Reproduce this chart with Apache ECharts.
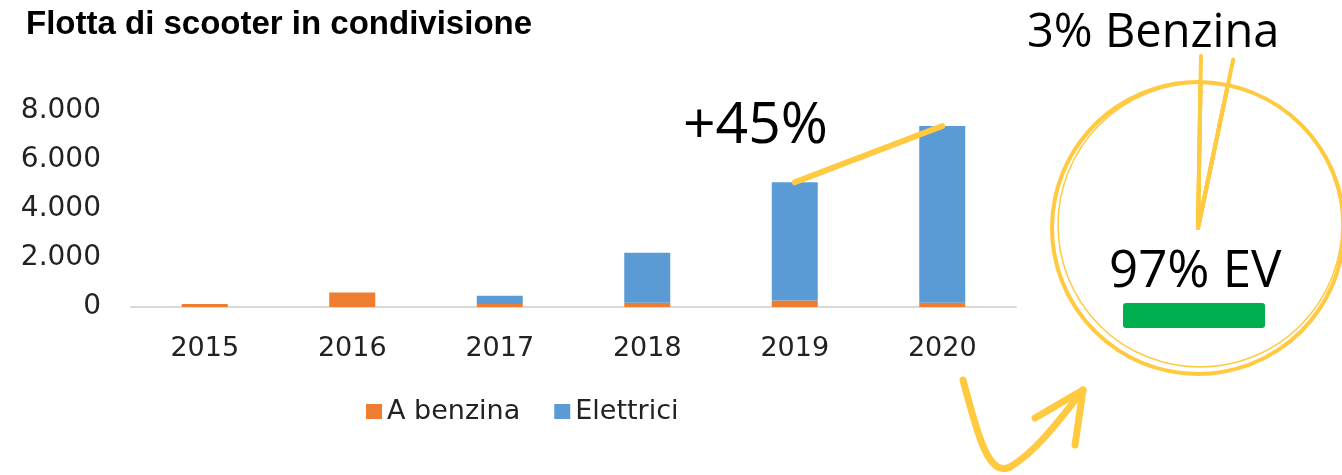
<!DOCTYPE html>
<html>
<head>
<meta charset="utf-8">
<script src="https://cdn.jsdelivr.net/npm/echarts@6/dist/echarts.min.js"></script>
<style>
  html, body { margin: 0; padding: 0; background: #fff; }
  #chart { width: 1342px; height: 475px; }
</style>
</head>
<body>
<div id="chart"></div>
<script>
// Shared scooter fleet by year, split by fuel type
const years = ['2015', '2016', '2017', '2018', '2019', '2020'];
const benzina = [125, 590, 120, 175, 270, 175];
const elettrici = [0, 0, 340, 2040, 4820, 7210];
const yTicks = [0, 2000, 4000, 6000, 8000];

// Fleet mix shown in the circle (percent)
const mixLabels = ['Benzina', 'EV'];
const mixShares = [3, 97];

const totals = years.map((_, i) => benzina[i] + elettrici[i]);
const growth = Math.round((totals[5] / totals[4] - 1) * 100);

const YELLOW = '#FFC940';
const fmtIt = v => String(v).replace(/\B(?=(\d{3})+(?!\d))/g, '.');

const chart = echarts.init(document.getElementById('chart'));

// pie geometry for the circle annotation
const pieCenter = [1198, 228];
const pieRadius = 146;
const pieStart = 89;

// radial strokes that run past the circle edge at each slice boundary
const boundaryLines = [];
{
  const total = mixShares.reduce((a, b) => a + b, 0);
  [0, mixShares[0] / total * 360].forEach(d => {
    const a = (pieStart - d) * Math.PI / 180;
    boundaryLines.push({
      type: 'line',
      silent: true,
      shape: {
        x1: pieCenter[0], y1: pieCenter[1],
        x2: pieCenter[0] + Math.cos(a) * 172,
        y2: pieCenter[1] - Math.sin(a) * 172
      },
      style: { stroke: YELLOW, lineWidth: 4, lineCap: 'round' },
      z: 10
    });
  });
}

const arrowStyle = { fill: 'none', stroke: YELLOW, lineWidth: 7, lineCap: 'round', lineJoin: 'round' };

const option = {
  backgroundColor: '#fff',
  animation: false,
  textStyle: { fontFamily: 'DejaVu Sans' },
  title: {
    text: 'Flotta di scooter in condivisione',
    left: 21,
    top: 3,
    textStyle: {
      fontFamily: 'Liberation Sans',
      fontWeight: 'bold',
      fontSize: 33,
      color: '#000'
    }
  },
  legend: {
    data: ['A benzina', 'Elettrici'],
    left: 361,
    top: 393,
    icon: 'rect',
    itemWidth: 16,
    itemHeight: 15,
    itemGap: 34,
    selectedMode: false,
    textStyle: { fontFamily: 'DejaVu Sans', fontSize: 27, color: '#222' }
  },
  grid: { left: 131, right: 326, top: 111, bottom: 168 },
  xAxis: {
    type: 'category',
    data: years,
    axisLine: { lineStyle: { color: '#D9D9D9', width: 2 } },
    axisTick: { show: false },
    axisLabel: { fontFamily: 'DejaVu Sans', fontSize: 27, color: '#222', margin: 28 }
  },
  yAxis: {
    type: 'value',
    min: yTicks[0],
    max: yTicks[yTicks.length - 1],
    interval: yTicks[1] - yTicks[0],
    splitLine: { show: false },
    axisLine: { show: false },
    axisTick: { show: false },
    axisLabel: {
      fontFamily: 'DejaVu Sans', fontSize: 28, color: '#222', margin: 30,
      formatter: fmtIt
    }
  },
  series: [
    {
      name: 'A benzina',
      type: 'bar',
      stack: 'flotta',
      barWidth: 46,
      data: benzina,
      itemStyle: { color: '#ED7D31' }
    },
    {
      name: 'Elettrici',
      type: 'bar',
      stack: 'flotta',
      barWidth: 46,
      data: elettrici,
      itemStyle: { color: '#5B9BD5' }
    },
    {
      // growth stroke between the last two fleet totals
      name: 'crescita',
      type: 'line',
      data: totals.map((v, i) => (i >= 4 ? v : null)),
      symbol: 'none',
      lineStyle: { color: YELLOW, width: 6, cap: 'round' },
      silent: true,
      z: 5
    },
    {
      name: 'mix',
      type: 'pie',
      center: pieCenter,
      radius: pieRadius,
      startAngle: pieStart,
      clockwise: true,
      silent: true,
      label: { show: false },
      labelLine: { show: false },
      emphasis: { disabled: true },
      data: mixLabels.map((n, i) => ({ name: n, value: mixShares[i] })),
      itemStyle: { color: 'rgba(0,0,0,0)', borderColor: YELLOW, borderWidth: 4 }
    }
  ],
  graphic: [
    // second, thinner ring for the hand-drawn look
    {
      type: 'circle',
      silent: true,
      shape: { cx: pieCenter[0] + 2, cy: pieCenter[1] - 3, r: pieRadius - 4 },
      style: { fill: 'none', stroke: YELLOW, lineWidth: 1.5 },
      z: 10
    },
    ...boundaryLines,
    {
      type: 'text',
      silent: true,
      x: 683,
      y: 98,
      style: {
        text: '+' + growth + '%',
        font: 'normal 57px "Open Sans"',
        fill: '#000'
      },
      z: 20
    },
    {
      type: 'text',
      silent: true,
      x: 1027,
      y: 10,
      style: {
        text: mixShares[0] + '% ' + mixLabels[0],
        font: 'normal 47px "Open Sans"',
        fill: '#000'
      },
      z: 20
    },
    {
      type: 'rect',
      silent: true,
      shape: { x: 1123, y: 303, width: 142, height: 25, r: 3 },
      style: { fill: '#00B050' },
      z: 15
    },
    {
      type: 'text',
      silent: true,
      x: 1109,
      y: 247,
      style: {
        text: mixShares[1] + '% ' + mixLabels[1],
        font: 'normal 51px "Open Sans"',
        fill: '#000'
      },
      z: 20
    },
    // curved arrow pointing at the circle
    {
      type: 'bezierCurve',
      silent: true,
      shape: { x1: 963, y1: 380, cpx1: 977, cpy1: 432, cpx2: 988, cpy2: 478, x2: 1010, y2: 467 },
      style: arrowStyle,
      z: 10
    },
    {
      type: 'bezierCurve',
      silent: true,
      shape: { x1: 1010, y1: 467, cpx1: 1036, cpy1: 452, cpx2: 1062, cpy2: 417, x2: 1083, y2: 390 },
      style: arrowStyle,
      z: 10
    },
    {
      type: 'polyline',
      silent: true,
      shape: { points: [[1035, 418], [1083, 390], [1075, 445]] },
      style: arrowStyle,
      z: 10
    }
  ]
};

chart.setOption(option);
</script>
</body>
</html>
